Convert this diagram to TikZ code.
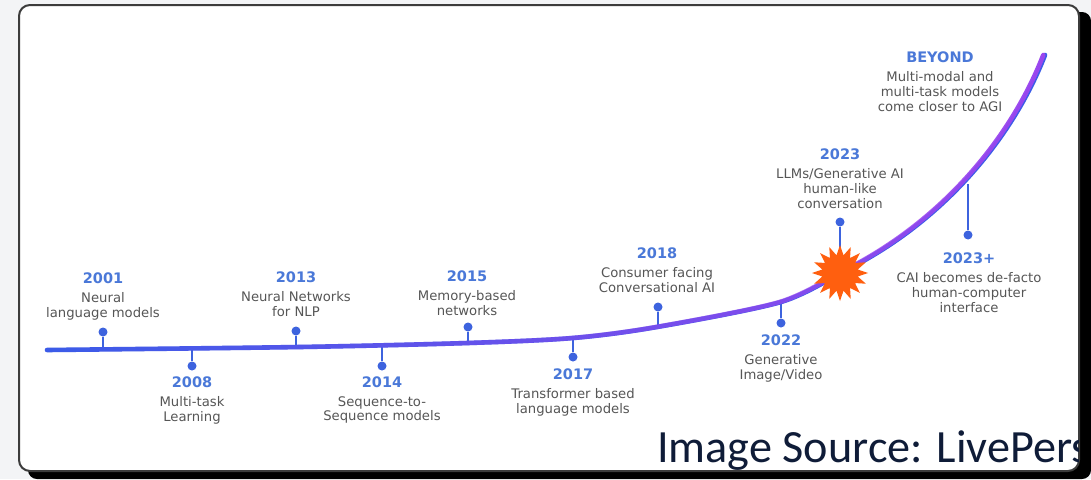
\documentclass[tikz,border=0pt]{standalone}
\usepackage{fontspec}
\setmainfont{DejaVu Sans}
\newfontfamily\srcfont{Carlito}
\usepackage{tikz}
\usetikzlibrary{positioning,shapes.geometric,fadings}

\definecolor{bggray}{HTML}{F3F4F6}
\definecolor{framegray}{HTML}{3C3C3C}
\definecolor{yearblue}{HTML}{4A78D8}
\definecolor{descgray}{HTML}{565656}
\definecolor{tickblue}{HTML}{3D63DE}
\definecolor{lineblue}{HTML}{3B5CE8}
\definecolor{linepurple}{HTML}{9A46EF}
\definecolor{burstorange}{HTML}{FF5F0F}
\definecolor{srcnavy}{HTML}{0F1C38}

% 曲线从左到右由蓝变紫
\tikzfading[name=curvefade, left color=transparent!100, right color=transparent!0]

\begin{document}
\begin{tikzpicture}[x=1pt, y=-1pt,
    yearlabel/.style={font=\fontsize{14.5}{17}\selectfont\bfseries, text=yearblue, inner sep=0pt},
    desctext/.style={font=\fontsize{13.2}{14.8}\selectfont, text=descgray, align=center, inner sep=0pt},
    eventdot/.style={circle, fill=tickblue, inner sep=0pt, minimum size=9pt},
    eventtick/.style={tickblue, line width=2.2pt},
    timeline/.style={line width=4.6pt, line cap=round}]
        \useasboundingbox (0,0) rectangle (1091,479);
        \fill[bggray] (0,0) rectangle (1091,479);

        % 外框和阴影
        \fill[black, rounded corners=9pt] (28,12) rectangle (1091,479);
        \filldraw[fill=white, draw=framegray, line width=2pt, rounded corners=11pt] (19,5) rectangle (1079,471);

        % 曲线上的连接点
        \coordinate (c01) at (103,349);
        \coordinate (c08) at (192,348);
        \coordinate (c13) at (296,347);
        \coordinate (c14) at (382,346);
        \coordinate (c15) at (468,343);
        \coordinate (c17) at (573,338);
        \coordinate (c18) at (658,327);
        \coordinate (c22) at (781,302);
        \coordinate (c23p) at (968,184);

        % 圆点
        \node[eventdot] (d01) at (103,332) {};
        \node[eventdot] (d08) at (192,366) {};
        \node[eventdot] (d13) at (296,331) {};
        \node[eventdot] (d14) at (382,366) {};
        \node[eventdot] (d15) at (468,327) {};
        \node[eventdot] (d17) at (573,357) {};
        \node[eventdot] (d18) at (658,307) {};
        \node[eventdot] (d22) at (781,323) {};
        \node[eventdot] (d23) at (840,222) {};
        \node[eventdot] (d23p) at (968,235) {};

        % 竖线
        \draw[eventtick] (d01) -- (c01);
        \draw[eventtick] (d08) -- (c08);
        \draw[eventtick] (d13) -- (c13);
        \draw[eventtick] (d14) -- (c14);
        \draw[eventtick] (d15) -- (c15);
        \draw[eventtick] (d17) -- (c17);
        \draw[eventtick] (d18) -- (c18);
        \draw[eventtick] (d22) -- (c22);
        \draw[eventtick] (d23p) -- (c23p);
        \draw[eventtick] (d23) -- (840,262);

        % 时间线
        \draw[timeline, lineblue] plot[smooth] coordinates {(47,350) (300,347) (468,343) (573,338) (657,327) (781,302) (840,273)}
            .. controls (935,228) and (1010,145) .. (1045,55);
        \draw[timeline, linepurple, path fading=curvefade] plot[smooth] coordinates {(47,350) (300,347) (468,343) (573,338) (657,327) (781,302) (840,273)}
            .. controls (935,228) and (1010,145) .. (1045,55);

        % 爆炸星
        \node[star, star points=16, star point ratio=1.55, fill=burstorange, minimum size=56pt, inner sep=0pt] (burst) at (840,273) {};

        % 年份和说明
        \node[yearlabel] (y01) at (103,278) {2001};
        \node[desctext, below=8.5pt of y01] (t01) {Neural\\language models};
        \node[yearlabel] (y08) at (192,382) {2008};
        \node[desctext, below=8.5pt of y08] (t08) {Multi-task\\Learning};
        \node[yearlabel] (y13) at (296,277) {2013};
        \node[desctext, below=8.5pt of y13] (t13) {Neural Networks\\for NLP};
        \node[yearlabel] (y14) at (382,382) {2014};
        \node[desctext, below=8.5pt of y14] (t14) {Sequence-to-\\Sequence models};
        \node[yearlabel] (y15) at (467,276) {2015};
        \node[desctext, below=8.5pt of y15] (t15) {Memory-based\\networks};
        \node[yearlabel] (y17) at (573,374) {2017};
        \node[desctext, below=8.5pt of y17] (t17) {Transformer based\\language models};
        \node[yearlabel] (y18) at (657,253) {2018};
        \node[desctext, below=8.5pt of y18] (t18) {Consumer facing\\Conversational AI};
        \node[yearlabel] (y22) at (781,340) {2022};
        \node[desctext, below=8.5pt of y22] (t22) {Generative\\Image/Video};
        \node[yearlabel] (y23) at (840,154) {2023};
        \node[desctext, below=8.5pt of y23] (t23) {LLMs/Generative AI\\human-like\\conversation};
        \node[yearlabel] (ybey) at (940,57) {BEYOND};
        \node[desctext, below=8.5pt of ybey] (tbey) {Multi-modal and\\multi-task models\\come closer to AGI};
        \node[yearlabel] (y23p) at (969,258) {2023+};
        \node[desctext, below=8.5pt of y23p] (t23p) {CAI becomes de-facto\\human-computer\\interface};

        % 来源
        \begin{scope}
            \clip (19,5) rectangle (1078,471);
            \node[anchor=base west, inner sep=0pt, text=srcnavy, font=\srcfont\fontsize{46.2}{55}\selectfont] (src) at (657,462) {Image Source: LivePers};
        \end{scope}
\end{tikzpicture}
\end{document}
